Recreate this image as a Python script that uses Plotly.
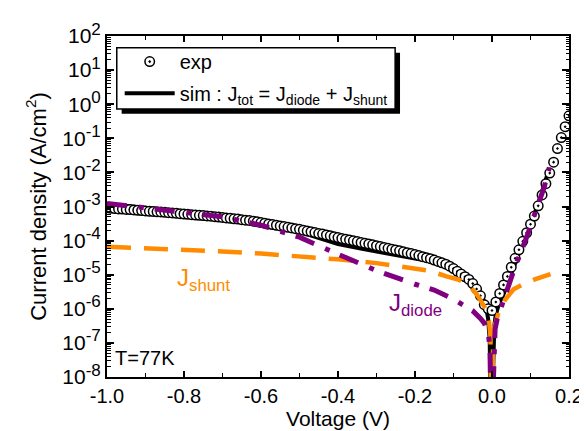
import plotly.graph_objects as go

# ---------------- data ----------------
# experimental points: voltage (V) and log10 of current density (A/cm^2)
exp_V = [round(-1.0 + 0.01 * i, 2) for i in range(121)]
exp_log10J = [
    -3.04, -3.05, -3.06, -3.07, -3.075, -3.085, -3.09, -3.10, -3.11, -3.12,
    -3.13, -3.14, -3.145, -3.155, -3.16, -3.17, -3.18, -3.19, -3.20, -3.21,
    -3.22, -3.23, -3.24, -3.25, -3.26, -3.265, -3.275, -3.285, -3.30, -3.31,
    -3.32, -3.335, -3.345, -3.36, -3.37, -3.385, -3.40, -3.41, -3.43, -3.45,
    -3.47, -3.49, -3.51, -3.53, -3.55, -3.57, -3.59, -3.61, -3.63, -3.65,
    -3.67, -3.695, -3.72, -3.74, -3.765, -3.79, -3.81, -3.835, -3.86, -3.885,
    -3.91, -3.935, -3.96, -3.98, -4.005, -4.03, -4.055, -4.08, -4.10, -4.125,
    -4.15, -4.175, -4.20, -4.225, -4.25, -4.275, -4.30, -4.33, -4.355, -4.38,
    -4.41, -4.44, -4.47, -4.50, -4.53, -4.57, -4.61, -4.65, -4.69, -4.75,
    -4.82, -4.90, -4.98, -5.06, -5.14, -5.26, -5.42, -5.62, -5.88, -6.00,
    -6.05, -5.80, -5.55, -5.30, -5.05, -4.78, -4.52, -4.27, -4.02, -3.77,
    -3.52, -3.28, -2.98, -2.66, -2.33, -2.02, -1.70, -1.30, -0.98, -0.66,
    -0.34,
]

# simulation J_tot
sim_V = [-1.0, -0.9, -0.8, -0.757, -0.7, -0.6, -0.5, -0.418, -0.4, -0.334,
         -0.3, -0.249, -0.2, -0.164, -0.122, -0.1, -0.079, -0.06, -0.037,
         -0.025, -0.016, -0.01, -0.006, -0.003, 0.0, 0.003, 0.006, 0.0094,
         0.0178, 0.03, 0.047, 0.064, 0.081, 0.10, 0.12, 0.14, 0.15]
sim_log10J = [-2.93, -3.04, -3.14, -3.20, -3.28, -3.45, -3.74, -4.05, -4.10,
              -4.25, -4.32, -4.43, -4.52, -4.60, -4.77, -4.87, -5.00, -5.15,
              -5.43, -5.65, -5.91, -6.30, -6.90, -8.30, -12.0, -7.80, -6.50,
              -6.20, -5.86, -5.57, -5.05, -4.52, -4.04, -3.52, -2.92, -2.20,
              -1.88]

# diode component
diode_V = [-1.0, -0.9, -0.8, -0.7, -0.6, -0.5, -0.4, -0.3, -0.2, -0.15, -0.1,
           -0.07, -0.05, -0.03, -0.02, -0.012, -0.008, -0.005, -0.003, 0.0,
           0.003, 0.005, 0.008, 0.0135, 0.02, 0.026, 0.035, 0.043, 0.05, 0.06,
           0.07, 0.0813, 0.09, 0.1024, 0.11, 0.1237, 0.135, 0.149]
diode_log10J = [-2.91, -3.03, -3.15, -3.30, -3.55, -3.90, -4.40, -4.88, -5.28,
                -5.45, -5.72, -5.93, -6.06, -6.28, -6.42, -6.65, -6.87, -7.30,
                -8.50, -12.0, -8.30, -7.00, -6.60, -6.30, -6.08, -5.81, -5.50,
                -5.24, -5.05, -4.76, -4.48, -4.18, -3.90, -3.50, -3.26, -2.83,
                -2.45, -1.85]

# shunt component
shunt_V = [-1.0, -0.9, -0.8, -0.7, -0.6, -0.5, -0.4, -0.3, -0.2, -0.164,
           -0.118, -0.088, -0.06, -0.037, -0.016, -0.008, -0.004, -0.002, 0.0,
           0.002, 0.005, 0.018, 0.035, 0.056, 0.08, 0.111, 0.152]
shunt_log10J = [-4.18, -4.22, -4.26, -4.32, -4.38, -4.46, -4.55, -4.66, -4.80,
                -4.88, -5.05, -5.14, -5.30, -5.62, -6.01, -6.35, -6.80, -7.60,
                -12.0, -7.40, -6.59, -6.06, -5.72, -5.43, -5.28, -5.14, -4.98]

x_tick_vals = [-1.0, -0.8, -0.6, -0.4, -0.2, 0.0, 0.2]
x_tick_text = ["-1.0", "-0.8", "-0.6", "-0.4", "-0.2", "0.0", "0.2"]
y_tick_exps = [-8, -7, -6, -5, -4, -3, -2, -1, 0, 1, 2]
y_tick_text = ["10<sup><span style='font-size:17px'>%d</span></sup>" % e
               for e in y_tick_exps]

ORANGE = "#FF8C00"
PURPLE = "#800080"
FONT = "Liberation Sans, Arial, Helvetica, sans-serif"

# plot-area geometry in pixels (used for paper-coordinate placement)
L, R, T, B = 99, 572, 23, 369
PW, PH = R - L, B - T


def px_x(p):
    return (p - L) / PW


def px_y(p):
    return (B - p) / PH


def lin(vals):
    return [10 ** v for v in vals]


fig = go.Figure()

fig.add_trace(go.Scatter(
    x=sim_V, y=lin(sim_log10J), mode="lines",
    name="sim : J<sub>tot</sub> = J<sub>diode</sub> + J<sub>shunt</sub>",
    line=dict(color="black", width=4), legend="legend2"))

fig.add_trace(go.Scatter(
    x=exp_V, y=lin(exp_log10J), mode="markers", name="exp",
    marker=dict(symbol="circle-dot", size=9.5, color="white",
                line=dict(color="black", width=1.5)), legend="legend"))

fig.add_trace(go.Scatter(
    x=shunt_V, y=lin(shunt_log10J), mode="lines", showlegend=False,
    line=dict(color=ORANGE, width=4.5, dash="24px,13px")))

fig.add_trace(go.Scatter(
    x=diode_V, y=lin(diode_log10J), mode="lines", showlegend=False,
    line=dict(color=PURPLE, width=5, dash="20px,12px,5px,11px")))

minor_y = [k * 10.0 ** e for e in range(-8, 2) for k in range(2, 10)]

fig.update_xaxes(
    range=[-1.0, 0.2], tickvals=x_tick_vals, ticktext=x_tick_text,
    ticks="inside", ticklen=6, tickwidth=1.5, tickcolor="black",
    showline=True, linecolor="black", linewidth=2, mirror="ticks",
    showgrid=False, zeroline=False,
    minor=dict(ticks="inside", ticklen=4, tickwidth=1.2, dtick=0.1, tick0=-1.0,
               tickcolor="black", showgrid=False),
    tickfont=dict(size=20, family=FONT, color="black"),
    title=dict(text="Voltage (V)", font=dict(size=21, family=FONT, color="black"),
               standoff=4),
)
fig.update_yaxes(
    type="log", range=[-8, 2],
    tickvals=[10.0 ** e for e in y_tick_exps], ticktext=y_tick_text,
    ticks="inside", ticklen=7, tickwidth=1.5, tickcolor="black",
    showline=True, linecolor="black", linewidth=2, mirror="ticks",
    showgrid=False, zeroline=False,
    minor=dict(ticks="inside", ticklen=3.5, tickwidth=1, tickvals=minor_y,
               tickcolor="black", showgrid=False),
    tickfont=dict(size=21, family=FONT, color="black"),
    title=dict(text="Current density (A/cm<sup>2</sup>)",
               font=dict(size=22, family=FONT, color="black"), standoff=10),
)

# legend box with drop shadow
fig.add_shape(type="rect", xref="paper", yref="paper",
              x0=px_x(114), x1=px_x(399), y0=px_y(102), y1=px_y(40),
              fillcolor="black", line=dict(width=0), layer="above")
fig.add_shape(type="rect", xref="paper", yref="paper",
              x0=px_x(109), x1=px_x(394), y0=px_y(97), y1=px_y(35),
              fillcolor="white", line=dict(color="black", width=1.5), layer="above")

legend_common = dict(xanchor="left", yanchor="middle", bgcolor="rgba(0,0,0,0)",
                     borderwidth=0, itemwidth=50,
                     font=dict(size=20, family=FONT, color="black"))

fig.update_layout(
    width=587, height=431,
    margin=dict(l=L, r=587 - R, t=T, b=431 - B),
    plot_bgcolor="white", paper_bgcolor="white",
    font=dict(family=FONT, color="black", size=20),
    showlegend=True,
    legend=dict(x=px_x(112), y=px_y(49), **legend_common),
    legend2=dict(x=px_x(112), y=px_y(81), **legend_common),
    annotations=[
        dict(x=-0.823, y=-4.62, xref="x", yref="y", text="J<sub>shunt</sub>",
             showarrow=False, xanchor="left", yanchor="top",
             font=dict(size=24, family=FONT, color=ORANGE)),
        dict(x=-0.272, y=-5.35, xref="x", yref="y", text="J<sub>diode</sub>",
             showarrow=False, xanchor="left", yanchor="top",
             font=dict(size=24, family=FONT, color=PURPLE)),
        dict(x=-0.985, y=-7.45, xref="x", yref="y", text="T=77K",
             showarrow=False, xanchor="left", yanchor="middle",
             font=dict(size=20, family=FONT, color="black")),
    ],
)

fig.write_html("out.html")
